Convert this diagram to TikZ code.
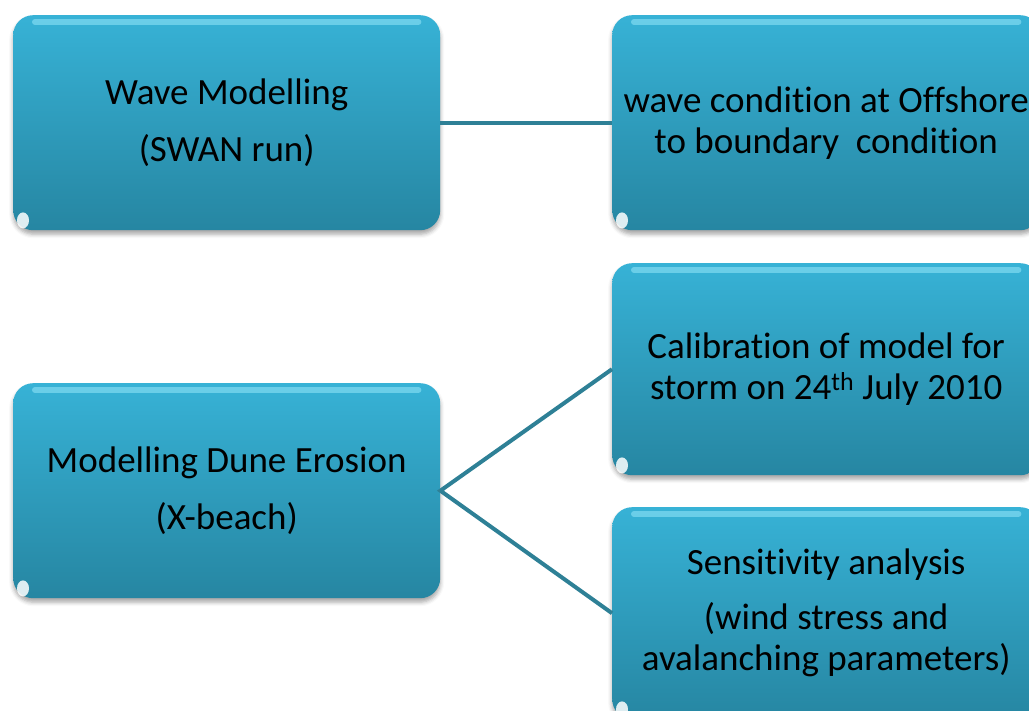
\documentclass[tikz,border=0pt]{standalone}
\usepackage{fontspec}
\setmainfont{Carlito}[Ligatures={NoCommon}]
\usetikzlibrary{shadows.blur}

\definecolor{boxtop}{RGB}{55,178,214}
\definecolor{boxbot}{RGB}{38,134,162}
\definecolor{linkcol}{RGB}{46,128,150}
\definecolor{glint}{RGB}{120,214,238}

\tikzset{
  flowbox/.style={
    rounded corners=20pt, minimum width=427pt, minimum height=215pt,
    anchor=north west, inner sep=0pt, align=center,
    top color=boxtop, bottom color=boxbot, draw=none,
    font=\fontsize{37}{41}\selectfont,
    blur shadow={shadow xshift=0pt, shadow yshift=-4pt,
                 shadow blur radius=4pt, shadow opacity=35}
  },
  link/.style={draw=linkcol, line width=4pt},
  topglint/.style={draw=glint, line width=6pt, line cap=round, opacity=0.8},
  cornerglint/.style={fill=white, opacity=0.85}
}

\newcommand{\boxglints}[1]{%
  \draw[topglint] ([xshift=22pt,yshift=-7pt]#1.north west) -- ([xshift=-22pt,yshift=-7pt]#1.north east);
  \fill[cornerglint] ([xshift=10pt,yshift=10pt]#1.south west) ellipse (6pt and 8pt);
}

\begin{document}
\begin{tikzpicture}[x=1pt, y=-1pt]
  \useasboundingbox (0,0) rectangle (1029,711);

  % top row
  \node[flowbox] (swan) at (13,15) {Wave Modelling\\[16pt](SWAN run)};
  \node[flowbox, minimum width=428pt] (offshore) at (612,15)
    {wave condition at Offshore\\to boundary\ \ condition};

  % bottom group
  \node[flowbox] (xbeach) at (13,383) {Modelling Dune Erosion\\[16pt](X-beach)};
  \node[flowbox, minimum width=428pt, minimum height=212pt] (calib) at (612,263)
    {Calibration of model for\\storm on 24\textsuperscript{th} July 2010};
  \node[flowbox, minimum width=428pt, minimum height=212pt] (sens) at (612,507)
    {Sensitivity analysis\\[14pt](wind stress and\\avalanching parameters)};

  \foreach \b in {swan,offshore,xbeach,calib,sens} {\boxglints{\b}}

  % connectors
  \draw[link] (swan.east) -- (offshore.west);
  \draw[link] (calib.west) -- (xbeach.east) -- (sens.west);
\end{tikzpicture}
\end{document}
